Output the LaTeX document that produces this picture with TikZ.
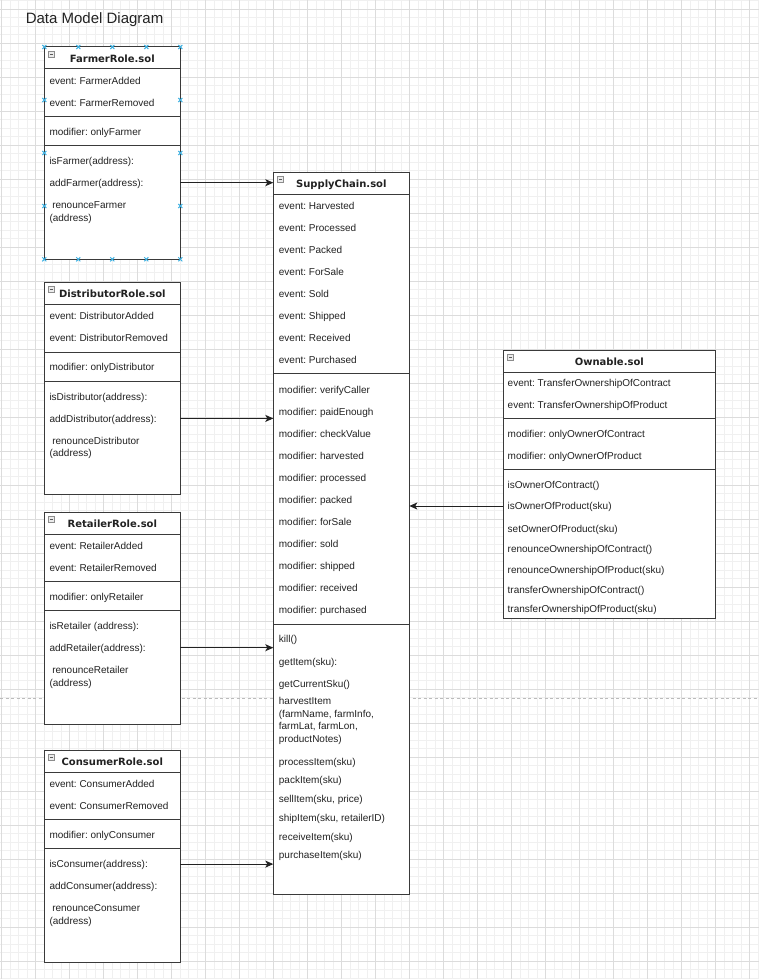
\documentclass[tikz,border=0pt]{standalone}
\usepackage{fontspec}
\setmainfont{Liberation Sans}
\newfontfamily\headfont{DejaVu Sans}
\usetikzlibrary{arrows.meta}
\frenchspacing

\definecolor{ink}{HTML}{222222}
\definecolor{edge}{HTML}{3A3A3A}
\definecolor{gridminor}{HTML}{F0F0F0}
\definecolor{gridmajor}{HTML}{DCDCDC}
\definecolor{handle}{HTML}{3CB0E2}
\definecolor{breakline}{HTML}{BBBBBB}

\tikzset{
  classbox/.style={draw=edge, fill=white, line width=1pt, anchor=north west,
    inner sep=0pt, outer sep=0pt},
  divider/.style={draw=edge, line width=1pt},
  txt/.style={anchor=west, inner sep=0pt, text height=7.2pt, text depth=0pt,
    font=\fontsize{10}{12}\selectfont, text=ink},
  hdr/.style={inner sep=0pt, text height=7.3pt, text depth=0pt,
    font=\headfont\bfseries\fontsize{10}{12}\selectfont, text=ink},
  arr/.style={draw=ink, line width=1pt, -{Stealth[length=8pt,width=7pt,inset=2pt]}},
  minorline/.style={draw=gridminor, line width=0.8pt},
  majorline/.style={draw=gridmajor, line width=0.8pt},
  pagebreak/.style={draw=breakline, line width=0.8pt, dash pattern=on 3pt off 2.5pt},
  iconbox/.style={draw=black!45, fill=black!8, line width=0.6pt},
  iconbar/.style={draw=black!65, line width=0.8pt},
  handlemark/.style={draw=handle, line width=1pt},
}

% collapse icon in the header of a class box (local coordinates)
\newcommand\hdricon{%
  \draw[iconbox] (4.3,3.9) rectangle (10.4,10.0);
  \draw[iconbar] (5.8,7.0) -- (8.9,7.0);}

% role contract box: id, top, title, event 1, event 2, modifier, method 1, method 2, method 3
\newcommand\rolebox[9]{%
  \begin{scope}[shift={(44.3,#2)}]
    \node[classbox, minimum width=136pt, minimum height=212pt] (#1) at (0,0) {};
    \draw[divider] (0,22) -- (136,22);
    \draw[divider] (0,69.5) -- (136,69.5);
    \draw[divider] (0,98.3) -- (136,98.3);
    \hdricon
    \node[hdr] (#1-title) at (68,11.6) {#3};
    \node[txt] (#1-e1) at (5,33.6) {event: #4};
    \node[txt] (#1-e2) at (5,55.6) {event: #5};
    \node[txt] (#1-mod) at (5,84.6) {modifier: #6};
    \node[txt] (#1-m1) at (5,114.1) {#7};
    \node[txt] (#1-m2) at (5,135.7) {#8};
    \node[txt] (#1-m3) at (5,157.9) {\ #9};
    \node[txt] (#1-m3b) at (5,170.5) {(address)};
  \end{scope}}

\begin{document}
\begin{tikzpicture}[x=1pt, y=-1pt]
  \useasboundingbox (0,0) rectangle (759,979);
  \fill[white] (0,0) rectangle (759,979);

  % background grid
  \foreach \i in {0,...,89}
    \draw[minorline] ({1.7+8.5*\i},0) -- ({1.7+8.5*\i},979);
  \foreach \i in {0,...,115}
    \draw[minorline] (0,{0.8+8.5*\i}) -- (759,{0.8+8.5*\i});
  \foreach \i in {0,...,22}
    \draw[majorline] ({1.7+34*\i},0) -- ({1.7+34*\i},979);
  \foreach \i in {0,...,28}
    \draw[majorline] (0,{9.3+34*\i}) -- (759,{9.3+34*\i});

  % page break
  \draw[pagebreak] (0,698.3) -- (759,698.3);

  % heading
  \node[anchor=base west, inner sep=0pt, font=\fontsize{15}{18}\selectfont, text=ink]
    (heading) at (25.6,24) {Data Model Diagram};

  % role contracts
  \rolebox{farmer}{47}{FarmerRole.sol}{FarmerAdded}{FarmerRemoved}{onlyFarmer}%
    {isFarmer(address):}{addFarmer(address):}{renounceFarmer}
  \rolebox{distributor}{282.7}{DistributorRole.sol}{DistributorAdded}{DistributorRemoved}%
    {onlyDistributor}{isDistributor(address):}{addDistributor(address):}{renounceDistributor}
  \rolebox{retailer}{512}{RetailerRole.sol}{RetailerAdded}{RetailerRemoved}{onlyRetailer}%
    {isRetailer (address):}{addRetailer(address):}{renounceRetailer}
  \rolebox{consumer}{750}{ConsumerRole.sol}{ConsumerAdded}{ConsumerRemoved}{onlyConsumer}%
    {isConsumer(address):}{addConsumer(address):}{renounceConsumer}

  % selection handles around FarmerRole.sol
  \begin{scope}[shift={(44.3,47)}]
    \foreach \x in {0,34,68,102,136}
      \foreach \y in {0,212.3}
        \draw[handlemark, shift={(\x,\y)}] (-2,-2) -- (2,2) (-2,2) -- (2,-2);
    \foreach \x in {0,136}
      \foreach \y in {53,106,159}
        \draw[handlemark, shift={(\x,\y)}] (-2,-2) -- (2,2) (-2,2) -- (2,-2);
  \end{scope}

  % SupplyChain.sol
  \node[classbox, minimum width=136pt, minimum height=722pt] (supply) at (273.3,172.3) {};
  \draw[divider] (273.3,194) -- (409.3,194);
  \draw[divider] (273.3,373.7) -- (409.3,373.7);
  \draw[divider] (273.3,624.3) -- (409.3,624.3);
  \begin{scope}[shift={(273.3,172.3)}]
    \hdricon
  \end{scope}
  \node[hdr] (supply-title) at (341.3,184) {SupplyChain.sol};
  \foreach \t [count=\i from 0] in {Harvested,Processed,Packed,ForSale,Sold,Shipped,Received,Purchased}
    \node[txt] (sc-ev\i) at (278.7,{205.7+22*\i}) {event: \t};
  \foreach \t [count=\i from 0] in {verifyCaller,paidEnough,checkValue,harvested,processed,packed,forSale,sold,shipped,received,purchased}
    \node[txt] (sc-mod\i) at (278.7,{389.4+22*\i}) {modifier: \t};
  \node[txt] (sc-kill) at (278.7,639.3) {kill()};
  \node[txt] (sc-get) at (278.7,661.7) {getItem(sku):};
  \node[txt] (sc-cur) at (278.7,684) {getCurrentSku()};
  \node[txt] (sc-hv1) at (278.7,701.3) {harvestItem};
  \node[txt] (sc-hv2) at (278.7,713.8) {(farmName, farmInfo,};
  \node[txt] (sc-hv3) at (278.7,726.3) {farmLat, farmLon,};
  \node[txt] (sc-hv4) at (278.7,738.6) {productNotes)};
  \node[txt] (sc-proc) at (278.7,762.3) {processItem(sku)};
  \node[txt] (sc-pack) at (278.7,780.3) {packItem(sku)};
  \node[txt] (sc-sell) at (278.7,799.3) {sellItem(sku, price)};
  \node[txt] (sc-ship) at (278.7,818.3) {shipItem(sku, retailerID)};
  \node[txt] (sc-recv) at (278.7,837) {receiveItem(sku)};
  \node[txt] (sc-buy) at (278.7,855.3) {purchaseItem(sku)};

  % Ownable.sol
  \node[classbox, minimum width=212pt, minimum height=268pt] (own) at (503.3,350.7) {};
  \draw[divider] (503.3,372.7) -- (715.3,372.7);
  \draw[divider] (503.3,418.7) -- (715.3,418.7);
  \draw[divider] (503.3,469.3) -- (715.3,469.3);
  \begin{scope}[shift={(503.3,350.7)}]
    \hdricon
  \end{scope}
  \node[hdr] (own-title) at (609.3,362) {Ownable.sol};
  \node[txt] (own-e1) at (507.5,383.3) {event: TransferOwnershipOfContract};
  \node[txt] (own-e2) at (507.5,404.7) {event: TransferOwnershipOfProduct};
  \node[txt] (own-mod1) at (507.5,433.7) {modifier: onlyOwnerOfContract};
  \node[txt] (own-mod2) at (507.5,456) {modifier: onlyOwnerOfProduct};
  \node[txt] (own-m1) at (507.5,485.3) {isOwnerOfContract()};
  \node[txt] (own-m2) at (507.5,506) {isOwnerOfProduct(sku)};
  \node[txt] (own-m3) at (507.5,528.5) {setOwnerOfProduct(sku)};
  \node[txt] (own-m4) at (507.5,549.3) {renounceOwnershipOfContract()};
  \node[txt] (own-m5) at (507.5,570) {renounceOwnershipOfProduct(sku)};
  \node[txt] (own-m6) at (507.5,590) {transferOwnershipOfContract()};
  \node[txt] (own-m7) at (507.5,609.3) {transferOwnershipOfProduct(sku)};

  % inheritance connectors
  \draw[arr] (farmer.east |- farmer-m2) -- (supply.west |- farmer-m2);
  \draw[arr] (distributor.east |- distributor-m2) -- (supply.west |- distributor-m2);
  \draw[arr] (retailer.east |- retailer-m2) -- (supply.west |- retailer-m2);
  \draw[arr] (consumer.east |- consumer-m1) -- (supply.west |- consumer-m1);
  \draw[arr] (own.west |- own-m2) -- (supply.east |- own-m2);
\end{tikzpicture}
\end{document}
